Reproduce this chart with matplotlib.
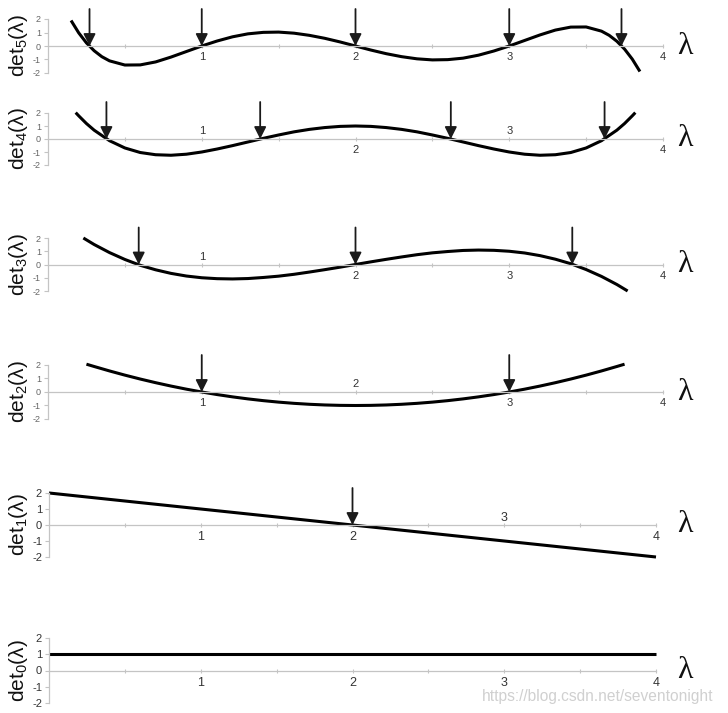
import matplotlib
matplotlib.use('Agg')
import matplotlib.pyplot as plt

plt.rcParams['font.family'] = ['Liberation Sans', 'DejaVu Sans']
plt.rcParams['mathtext.fontset'] = 'custom'
plt.rcParams['mathtext.rm'] = 'Liberation Sans'
plt.rcParams['mathtext.it'] = 'Liberation Sans:italic'

# ---------------- data ----------------
lam5 = [0.15, 0.2, 0.25, 0.3, 0.35, 0.4, 0.5, 0.6, 0.7, 0.8, 0.9, 1.0, 1.1, 1.2, 1.3, 1.4,
        1.5, 1.6, 1.7, 1.8, 1.9, 2.0, 2.1, 2.2, 2.3, 2.4, 2.5, 2.6, 2.7, 2.8, 2.9, 3.0,
        3.1, 3.2, 3.3, 3.4, 3.5, 3.6, 3.65, 3.7, 3.75, 3.8, 3.85]
det5 = [1.89, 0.97, 0.23, -0.35, -0.79, -1.10, -1.41, -1.40, -1.18, -0.82, -0.41, 0.0,
        0.37, 0.68, 0.90, 1.01, 1.03, 0.95, 0.79, 0.57, 0.30, 0.0, -0.30, -0.57, -0.79,
        -0.95, -1.03, -1.01, -0.90, -0.68, -0.37, 0.0, 0.41, 0.82, 1.18, 1.40, 1.41, 1.10,
        0.79, 0.35, -0.23, -0.97, -1.89]
roots5 = [0.27, 1.0, 2.0, 3.0, 3.73]

lam4 = [0.18, 0.2, 0.25, 0.3, 0.4, 0.5, 0.6, 0.7, 0.8, 0.9, 1.0, 1.1, 1.2, 1.3, 1.4, 1.5,
        1.6, 1.7, 1.8, 1.9, 2.0, 2.1, 2.2, 2.3, 2.4, 2.5, 2.6, 2.7, 2.8, 2.9, 3.0, 3.1,
        3.2, 3.3, 3.4, 3.5, 3.6, 3.7, 3.75, 3.8, 3.82]
det4 = [2.03, 1.78, 1.19, 0.68, -0.13, -0.69, -1.04, -1.21, -1.25, -1.17, -1.0, -0.77,
        -0.51, -0.23, 0.05, 0.31, 0.55, 0.74, 0.88, 0.97, 1.0, 0.97, 0.88, 0.74, 0.55,
        0.31, 0.05, -0.23, -0.51, -0.77, -1.0, -1.17, -1.25, -1.21, -1.04, -0.69, -0.13,
        0.68, 1.19, 1.78, 2.03]
roots4 = [0.38, 1.38, 2.62, 3.62]

lam3 = [0.23, 0.3, 0.4, 0.5, 0.6, 0.7, 0.8, 0.9, 1.0, 1.1, 1.2, 1.3, 1.4, 1.5, 1.6, 1.7,
        1.8, 1.9, 2.0, 2.1, 2.2, 2.3, 2.4, 2.5, 2.6, 2.7, 2.8, 2.9, 3.0, 3.1, 3.2, 3.3,
        3.4, 3.5, 3.6, 3.7, 3.77]
det3 = [2.0, 1.51, 0.90, 0.38, -0.06, -0.40, -0.67, -0.87, -1.0, -1.07, -1.09, -1.06,
        -0.98, -0.88, -0.74, -0.57, -0.39, -0.20, 0.0, 0.20, 0.39, 0.57, 0.74, 0.88, 0.98,
        1.06, 1.09, 1.07, 1.0, 0.87, 0.67, 0.40, 0.06, -0.38, -0.90, -1.51, -2.0]
roots3 = [0.59, 2.0, 3.41]

lam2 = [0.25, 0.3, 0.4, 0.5, 0.6, 0.7, 0.8, 0.9, 1.0, 1.1, 1.2, 1.3, 1.4, 1.5, 1.6, 1.7,
        1.8, 1.9, 2.0, 2.1, 2.2, 2.3, 2.4, 2.5, 2.6, 2.7, 2.8, 2.9, 3.0, 3.1, 3.2, 3.3,
        3.4, 3.5, 3.6, 3.7, 3.75]
det2 = [2.06, 1.89, 1.56, 1.25, 0.96, 0.69, 0.44, 0.21, 0.0, -0.19, -0.36, -0.51, -0.64,
        -0.75, -0.84, -0.91, -0.96, -0.99, -1.0, -0.99, -0.96, -0.91, -0.84, -0.75, -0.64,
        -0.51, -0.36, -0.19, 0.0, 0.21, 0.44, 0.69, 0.96, 1.25, 1.56, 1.89, 2.06]
roots2 = [1.0, 3.0]

lam1 = [0, 1, 2, 3, 4]
det1 = [2, 1, 0, -1, -2]
roots1 = [2.0]

lam0 = [0, 4]
det0 = [1, 1]
roots0 = []

ylabels = [r'det$_\mathregular{5}$(λ)', r'det$_\mathregular{4}$(λ)', r'det$_\mathregular{3}$(λ)',
           r'det$_\mathregular{2}$(λ)', r'det$_\mathregular{1}$(λ)', r'det$_\mathregular{0}$(λ)']
xtick_labels = ['1', '2', '3', '4']
ytick_values = [-2, -1, 0, 1, 2]

# ---------------- layout ----------------
W, H = 728, 713
fig = plt.figure(figsize=(W / 100, H / 100), dpi=100)

# (top_px, bottom_px, left_px, right_px, small style?, label side for 1,2,3,4)
layout = [
    (19, 73, 48, 663, True, ['b', 'b', 'b', 'b']),
    (113, 165, 48, 663, True, ['a', 'b', 'a', 'b']),
    (238, 291, 48, 663, True, ['a', 'b', 'b', 'b']),
    (365, 419, 48, 663, True, ['b', 'a', 'b', 'b']),
    (493, 557, 49, 656, False, ['b', 'b', 'a', 'b']),
    (638, 703, 49, 656, False, ['b', 'b', 'b', 'b']),
]
series = [(lam5, det5, roots5), (lam4, det4, roots4), (lam3, det3, roots3),
          (lam2, det2, roots2), (lam1, det1, roots1), (lam0, det0, roots0)]

axis_col = '#c4c4c4'
for (top, bot, lpx, rpx, small, sides), (lam, vals, roots), ylab in zip(layout, series, ylabels):
    ax = fig.add_axes([lpx / W, 1 - bot / H, (rpx - lpx) / W, (bot - top) / H])
    ax.patch.set_alpha(0)
    ax.set_xlim(0, 4)
    ax.set_ylim(-2, 2)
    for s in ('top', 'right'):
        ax.spines[s].set_visible(False)
    ax.spines['bottom'].set_position(('data', 0))
    ax.spines['bottom'].set_color(axis_col)
    ax.spines['left'].set_color(axis_col)
    ax.spines['bottom'].set_linewidth(0.9)
    ax.spines['left'].set_linewidth(0.9)
    ax.set_xticks([0.5, 1, 1.5, 2, 2.5, 3, 3.5, 4])
    ax.tick_params(axis='x', direction='inout', length=3, color=axis_col, labelbottom=False)
    ax.set_yticks(ytick_values)
    ax.set_yticklabels([str(v) for v in ytick_values])
    ax.tick_params(axis='y', direction='out', length=3, color=axis_col, pad=2,
                   labelsize=6.5 if small else 8, labelcolor='#666666' if small else '#333333')

    ax.plot(lam, vals, color='black', lw=2.2, clip_on=False, solid_capstyle='butt')

    for r in roots:
        ax.annotate('', xy=(r, 0), xytext=(0, 37), textcoords='offset pixels',
                    arrowprops=dict(arrowstyle='-|>,head_length=0.4,head_width=0.2',
                                    mutation_scale=18, lw=1.3, color='#1a1a1a',
                                    shrinkA=0, shrinkB=0),
                    annotation_clip=False)

    fs = 8 if small else 9
    for lab, side in zip(xtick_labels, sides):
        xv = float(lab)
        if side == 'b':
            ax.annotate(lab, xy=(xv, 0), xytext=(0, -6), textcoords='offset pixels',
                        ha='center', va='top', fontsize=fs, color='#333333',
                        annotation_clip=False)
        else:
            ax.annotate(lab, xy=(xv, 0), xytext=(0, 3 if small else 1),
                        textcoords='offset pixels', ha='center', va='bottom',
                        fontsize=fs, color='#333333', annotation_clip=False)

    zero_px = (top + bot) / 2
    fig.text(685 / W, 1 - zero_px / H, 'λ', family=['Liberation Serif', 'DejaVu Serif'],
             fontsize=23, ha='center', va='center', color='#111111')
    fig.text(19 / W, 1 - zero_px / H, ylab, rotation=90, ha='center', va='center',
             fontsize=15, color='#111111')

fig.text(482 / W, 1 - 697 / H, 'https://blog.csdn.net/seventonight', color='#d0d0d0',
         fontsize=11.2, ha='left', va='center')

fig.savefig('out.png', dpi=100)
